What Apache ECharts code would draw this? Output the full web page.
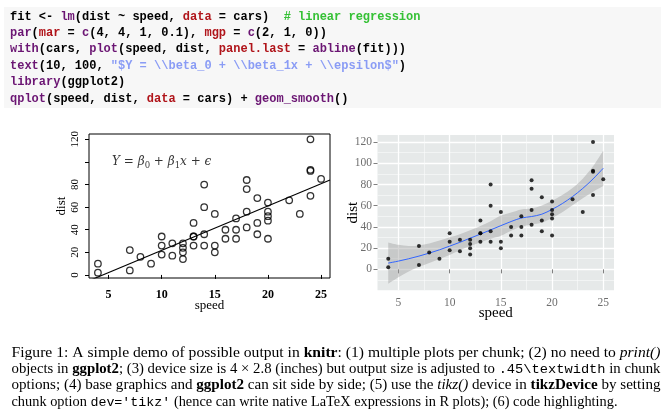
<!DOCTYPE html>
<html><head><meta charset="utf-8">
<script src="https://cdn.jsdelivr.net/npm/echarts@6/dist/echarts.min.js"></script>
<style>html,body{margin:0;padding:0;background:#fff}#c{width:666px;height:416px}</style>
</head><body><div id="c"></div>
<script>
// ---- data (cars dataset) ----
const speed = [4,4,7,7,8,9,10,10,10,11,11,12,12,12,12,13,13,13,13,14,14,14,14,15,15,15,16,16,17,17,17,18,18,18,18,19,19,19,20,20,20,20,20,22,23,24,24,24,24,25];
const dist  = [2,10,4,22,16,10,18,26,34,17,28,14,20,24,28,26,34,34,46,26,36,60,80,20,26,54,32,40,32,40,50,42,56,76,84,36,46,68,32,48,52,56,64,66,54,70,92,93,120,85];
// regression line end points (abline across plot region)
const ablineX = [3.16, 25.84];
const ablineY = [-5.15, 84.0];
// loess smooth curve and confidence band
const smoothX  = [4,5,6,7,8,9,10,11,12,13,14,15,16,17,18,19,20,21,22,23,24,25];
const smoothFit= [5.9,7.8,10.0,12.5,15.3,18.4,21.9,25.5,29.4,33.2,37.2,41.2,45.1,48.4,49.8,52.0,56.5,62.0,68.6,76.3,85.2,95.3];
const smoothLo = [-13.6,-7.5,-2.0,2.4,6.1,9.8,13.6,17.9,21.9,25.6,28.9,31.7,36.5,40.2,42.3,43.9,48.3,53.9,60.4,67.1,73.2,78.6];
const smoothHi = [25.4,23.1,22.0,22.6,24.4,27.1,30.2,33.2,36.8,40.8,45.4,50.7,53.6,56.5,57.4,60.1,64.6,70.1,76.8,85.5,97.2,112.1];
// ticks
const leftXTicks = [5,10,15,20,25];
const leftYTicks = [0,20,40,60,80,100,120];
const leftYLabels = [0,20,40,60,80,120];
const rightXTicks = [5,10,15,20,25];
const rightXMinor = [7.5,12.5,17.5,22.5];
const rightYTicks = [0,20,40,60,80,100,120];
const rightYMinor = [-10,10,30,50,70,90,110];
// text
const equationText = '{m|Y = β}{sub|0}{m| + β}{sub|1}{m|x + ϵ}';
const codeLines = [
  [['s','fit <- '],['f','lm'],['s','(dist ~ speed, '],['a','data'],['s',' = cars)  '],['c','# linear regression']],
  [['f','par'],['s','('],['a','mar'],['s',' = '],['f','c'],['s','(4, 4, 1, 0.1), '],['a','mgp'],['s',' = '],['f','c'],['s','(2, 1, 0))']],
  [['f','with'],['s','(cars, '],['f','plot'],['s','(speed, dist, '],['a','panel.last'],['s',' = '],['f','abline'],['s','(fit)))']],
  [['f','text'],['s','(10, 100, '],['q','"$Y = \\\\beta_0 + \\\\beta_1x + \\\\epsilon$"'],['s',')']],
  [['f','library'],['s','(ggplot2)']],
  [['f','qplot'],['s','(speed, dist, '],['a','data'],['s',' = cars) + '],['f','geom_smooth'],['s','()']]
];
const captionLines = [
  [['n','Figure 1: A simple demo of possible output in '],['b','knitr'],['n',': (1) multiple plots per chunk; (2) no need to '],['i','print()']],
  [['n','objects in '],['b','ggplot2'],['n','; (3) device size is 4 × 2.8 (inches) but output size is adjusted to '],['t','.45\\textwidth'],['n',' in chunk']],
  [['n','options; (4) base graphics and '],['b','ggplot2'],['n',' can sit side by side; (5) use the '],['i','tikz()'],['n',' device in '],['b','tikzDevice'],['n',' by setting']],
  [['n','chunk option '],['t',"dev='tikz'"],['n',' (hence can write native LaTeX expressions in R plots); (6) code highlighting.']]
];
const captionWidths = [649, 649, 649, 606];

// ---- styles ----
const SERIF = '"Liberation Serif", "DejaVu Serif", serif';
const MONO = '"Liberation Mono", "DejaVu Sans Mono", monospace';
const codeRich = {
  s:{fill:'#000000', fontFamily:MONO, fontWeight:'bold', fontSize:12},
  f:{fill:'#6b1573', fontFamily:MONO, fontWeight:'bold', fontSize:12},
  a:{fill:'#b0141a', fontFamily:MONO, fontWeight:'bold', fontSize:12},
  c:{fill:'#35c135', fontFamily:MONO, fontWeight:'bold', fontSize:12},
  q:{fill:'#8a9cf5', fontFamily:MONO, fontWeight:'bold', fontSize:12}
};
const CAP_FS = 14;
const capRich = {
  n:{fill:'#000', fontFamily:SERIF, fontSize:CAP_FS},
  b:{fill:'#000', fontFamily:SERIF, fontSize:CAP_FS, fontWeight:'bold'},
  i:{fill:'#000', fontFamily:SERIF, fontSize:CAP_FS, fontStyle:'italic'},
  t:{fill:'#000', fontFamily:MONO, fontSize:CAP_FS-1}
};
const capFont = {
  n:`${CAP_FS}px ${SERIF}`, b:`bold ${CAP_FS}px ${SERIF}`, i:`italic ${CAP_FS}px ${SERIF}`, t:`${CAP_FS-1}px ${MONO}`
};
const mctx = document.createElement('canvas').getContext('2d');
function measure(segs){ let w=0; segs.forEach(([k,t])=>{ mctx.font=capFont[k]; w+=mctx.measureText(t).width; }); return w; }
const toRich = segs => segs.map(([k,t]) => `{${k}|${t}}`).join('');

const graphics = [
  {type:'rect', shape:{x:4, y:7, width:657, height:101}, style:{fill:'#f7f7f7'}, z:-10}
];
codeLines.forEach((segs,i) => {
  graphics.push({type:'text', x:10, y:16.5 + i*16.45, style:{text:toRich(segs), rich:codeRich, verticalAlign:'middle', align:'left'}});
});
captionLines.forEach((segs,i) => {
  const w = measure(segs);
  graphics.push({type:'text', x:11.5, y:353 + i*16.4, scaleX: captionWidths[i]/w,
    style:{text:toRich(segs), rich:capRich, verticalAlign:'middle', align:'left'}});
});

// Catmull-Rom -> cubic bezier path through pixel points
function crPath(p){
  let s='';
  for(let i=0;i<p.length-1;i++){
    const p0=p[Math.max(i-1,0)], p1=p[i], p2=p[i+1], p3=p[Math.min(i+2,p.length-1)];
    const c1=[p1[0]+(p2[0]-p0[0])/6, p1[1]+(p2[1]-p0[1])/6];
    const c2=[p2[0]-(p3[0]-p1[0])/6, p2[1]-(p3[1]-p1[1])/6];
    s+=` C${c1[0]},${c1[1]} ${c2[0]},${c2[1]} ${p2[0]},${p2[1]}`;
  }
  return s;
}

const pts = speed.map((s,i)=>[s, dist[i]]);
const grayTxt = '#6e6e6e';
const nameBase = {nameLocation:'middle', nameMoveOverlap:false};
const EQF = '"DejaVu Serif", serif';

const option = {
  animation:false,
  graphic: graphics,
  grid:[
    {left:89, top:134, width:241, height:144, show:true, borderColor:'#000', borderWidth:1, backgroundColor:'transparent', containLabel:false},
    {left:377.5, top:135, width:236.5, height:155.2, show:true, borderWidth:0, backgroundColor:'#e6e9e9', containLabel:false}
  ],
  xAxis:[
    Object.assign({gridIndex:0, type:'value', min:3.16, max:25.84, axisLine:{show:false},
     axisTick:{show:true, customValues:leftXTicks, length:4, lineStyle:{color:'#000'}},
     axisLabel:{customValues:leftXTicks, margin:11, color:'#000', fontFamily:SERIF, fontSize:12, fontWeight:'bold'},
     splitLine:{show:false},
     name:'speed', nameGap:21, nameTextStyle:{color:'#000', fontFamily:SERIF, fontSize:13}}, nameBase),
    Object.assign({gridIndex:1, type:'value', min:2.95, max:26.05, axisLine:{show:false},
     axisTick:{show:true, customValues:rightXTicks, length:4, lineStyle:{color:'#808080'}},
     axisLabel:{customValues:rightXTicks, margin:7, color:grayTxt, fontFamily:SERIF, fontSize:11.5},
     splitLine:{show:true, lineStyle:{color:'#ffffff', width:1.3}},
     name:'speed', nameGap:15.5, nameTextStyle:{color:'#000', fontFamily:SERIF, fontSize:15}}, nameBase),
    {gridIndex:1, type:'value', min:2.95, max:26.05, axisLine:{show:false},
     axisTick:{show:false, customValues:rightXMinor}, axisLabel:{show:false},
     splitLine:{show:true, lineStyle:{color:'#fafbfb', width:0.6}}}
  ],
  yAxis:[
    Object.assign({gridIndex:0, type:'value', min:-2.72, max:124.72, axisLine:{show:false},
     axisTick:{show:true, customValues:leftYTicks, length:4, lineStyle:{color:'#000'}},
     axisLabel:{customValues:leftYLabels, rotate:90, margin:8, color:'#000', fontFamily:SERIF, fontSize:11},
     splitLine:{show:false},
     name:'dist', nameGap:20.5, nameRotate:90, nameTextStyle:{color:'#000', fontFamily:SERIF, fontSize:13}}, nameBase),
    Object.assign({gridIndex:1, type:'value', min:-19.65, max:126.65, axisLine:{show:false},
     axisTick:{show:true, customValues:rightYTicks, length:4, lineStyle:{color:'#808080'}},
     axisLabel:{customValues:rightYTicks, margin:5.5, color:grayTxt, fontFamily:SERIF, fontSize:11.5},
     splitLine:{show:true, lineStyle:{color:'#ffffff', width:1.3}},
     name:'dist', nameGap:16.5, nameRotate:90, nameTextStyle:{color:'#000', fontFamily:SERIF, fontSize:15}}, nameBase),
    {gridIndex:1, type:'value', min:-19.65, max:126.65, axisLine:{show:false},
     axisTick:{show:false, customValues:rightYMinor}, axisLabel:{show:false},
     splitLine:{show:true, lineStyle:{color:'#fafbfb', width:0.6}}}
  ],
  series:[
    {type:'scatter', xAxisIndex:0, yAxisIndex:0, data:pts, symbol:'circle', symbolSize:6.5,
     itemStyle:{color:'rgba(0,0,0,0)', borderColor:'#000', borderWidth:1.3}, silent:true},
    {type:'line', xAxisIndex:0, yAxisIndex:0, data:ablineX.map((x,i)=>[x, ablineY[i]]), showSymbol:false, symbol:'none',
     lineStyle:{color:'#000', width:1.1}, silent:true, clip:true},
    {type:'scatter', xAxisIndex:0, yAxisIndex:0, data:[[10,100]], symbolSize:0, silent:true,
     label:{show:true, position:'inside', formatter:equationText,
       rich:{
         m:{color:'#000', fontFamily:EQF, fontStyle:'italic', fontSize:12, lineHeight:17, verticalAlign:'middle'},
         sub:{color:'#000', fontFamily:EQF, fontSize:8.5, lineHeight:17, verticalAlign:'bottom'}
       }}},
    {type:'scatter', xAxisIndex:1, yAxisIndex:1, data:pts, symbol:'circle', symbolSize:4, itemStyle:{color:'#000'}, silent:true},
    {type:'custom', xAxisIndex:1, yAxisIndex:1, silent:true, clip:true,
     data:smoothX.map((x,i)=>[x, smoothLo[i], smoothHi[i]]),
     encode:{x:0, y:[1,2]},
     renderItem:(params, api) => {
       if (params.dataIndex !== 0) return null;
       const up = smoothX.map((x,i)=>api.coord([x, smoothHi[i]]));
       const lo = smoothX.map((x,i)=>api.coord([x, smoothLo[i]])).reverse();
       const d = `M${up[0][0]},${up[0][1]}` + crPath(up) + ` L${lo[0][0]},${lo[0][1]}` + crPath(lo) + ' Z';
       return {type:'path', shape:{pathData:d}, style:{fill:'rgba(153,153,153,0.4)', stroke:null}};
     }},
    {type:'custom', xAxisIndex:1, yAxisIndex:1, silent:true, clip:true,
     data:smoothX.map((x,i)=>[x, smoothFit[i]]),
     encode:{x:0, y:1},
     renderItem:(params, api) => {
       if (params.dataIndex !== 0) return null;
       const p = smoothX.map((x,i)=>api.coord([x, smoothFit[i]]));
       const d = `M${p[0][0]},${p[0][1]}` + crPath(p);
       return {type:'path', shape:{pathData:d}, style:{fill:null, stroke:'#3366ff', lineWidth:1}};
     }}
  ]
};
const chart = echarts.init(document.getElementById('c'), null, {renderer:'canvas'});
chart.setOption(option);
</script></body></html>
